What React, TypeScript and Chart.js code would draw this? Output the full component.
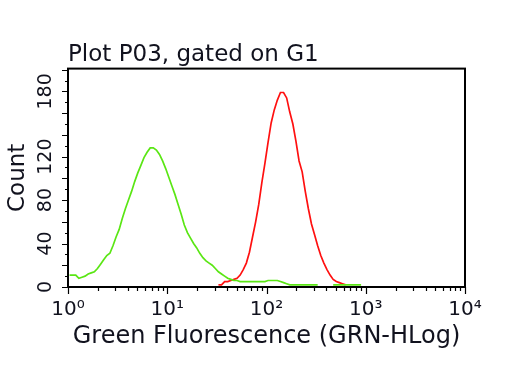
import { useEffect, useRef } from 'react';
import { Chart, registerables } from 'chart.js';

Chart.register(...registerables);

// ---- data ----
const CHANNELS_PER_DECADE = 32;

const greenStartChannel = 0;
const greenCounts: (number | null)[] = [
  11, 11, 11, 8, 9, 10, 12, 13, 14, 17,
  21, 25, 29, 31, 38, 46, 53, 63, 72, 80,
  88, 97, 105, 112, 119, 124, 128, 128, 126, 122,
  116, 109, 101, 93, 85, 76, 67, 57, 50, 45,
  40, 36, 31, 27, 24, 22, 20, 17, 14, 12,
  10, 8, 7, 6, 6, 5, 5, 5, 5, 5,
  5, 5, 5, 5, 6, 6, 6, 6, 5, 4,
  3, 2, 2, 2, 2, 2, 2, 2, 2, 2,
  2, null, null, null, null, 2, 2, 2, 2, 2,
  2, 2, 2, 2, 2,
];

const redStartChannel = 48;
const redCounts: (number | null)[] = [
  2, 2, 5, 5, 6, 7, 8, 11, 16, 22,
  32, 46, 60, 76, 96, 114, 133, 151, 163, 172,
  179, 179, 174, 161, 150, 134, 116, 106, 88, 72,
  58, 48, 38, 29, 22, 16, 11, 7, 5, 4,
  3, 2,
];

const xDecades = [1, 10, 100, 1000, 10000];
const xDecadeLabels = ['10\u2070', '10\u00B9', '10\u00B2', '10\u00B3', '10\u2074'];
const xMinorMultipliers = [2, 3, 4, 5, 6, 7, 8, 9];

const yLabelValues = [0, 40, 80, 120, 180];
const Y_MIN = 0;
const Y_MAX = 201;
const Y_STEP = 10;

const chartTitle = 'Plot P03, gated on G1';
const xTitle = 'Green Fluorescence (GRN-HLog)';
const yTitle = 'Count';

const GREEN = '#5ae614';
const RED = '#ff1010';
const TEXT = '#11121e';
const FONT = 'DejaVu Sans';

function toPoints(counts: (number | null)[], start: number) {
  return counts.map((c, i) => ({
    x: Math.pow(10, (start + i + 0.5) / CHANNELS_PER_DECADE),
    y: c,
  }));
}

const frameAndTicks = {
  id: 'frameAndTicks',
  afterDatasetsDraw(chart: any) {
    const { ctx, chartArea: a, scales } = chart;
    const xs = scales.x;
    const ys = scales.y;
    ctx.save();
    ctx.strokeStyle = '#000';
    ctx.lineWidth = 1.2;
    ctx.beginPath();
    xs.ticks.forEach((t: any) => {
      const px = Math.round(xs.getPixelForValue(t.value)) + 0.5;
      const len = xDecades.includes(t.value) ? 7 : 4;
      ctx.moveTo(px, a.bottom);
      ctx.lineTo(px, a.bottom + len);
    });
    ys.ticks.forEach((t: any) => {
      const py = Math.round(ys.getPixelForValue(t.value)) + 0.5;
      const len = t.value % 20 === 0 ? 6 : 3;
      ctx.moveTo(a.left, py);
      ctx.lineTo(a.left - len, py);
    });
    ctx.stroke();
    ctx.lineWidth = 2;
    ctx.strokeRect(a.left, a.top, a.right - a.left, a.bottom - a.top);
    ctx.restore();
  },
};

export default function App() {
  const ref = useRef<HTMLCanvasElement | null>(null);

  useEffect(() => {
    if (!ref.current) return;
    Chart.defaults.font.family = FONT;
    const chart = new Chart(ref.current, {
      type: 'line',
      data: {
        datasets: [
          {
            label: 'green',
            data: toPoints(greenCounts, greenStartChannel),
            borderColor: GREEN,
            borderWidth: 1.7,
            pointRadius: 0,
            tension: 0,
            spanGaps: false,
            fill: false,
          },
          {
            label: 'red',
            data: toPoints(redCounts, redStartChannel),
            borderColor: RED,
            borderWidth: 1.7,
            pointRadius: 0,
            tension: 0,
            spanGaps: false,
            fill: false,
          },
        ],
      },
      options: {
        responsive: false,
        animation: false,
        events: [],
        layout: { padding: { top: 0, right: 47, bottom: 0, left: 0 } },
        plugins: {
          legend: { display: false },
          tooltip: { enabled: false },
          title: {
            display: true,
            text: chartTitle,
            align: 'start',
            fullSize: false,
            color: TEXT,
            font: { family: FONT, size: 23, weight: 'normal' },
            padding: { top: 41, bottom: 0 },
          },
        },
        scales: {
          x: {
            type: 'logarithmic',
            min: xDecades[0],
            max: xDecades[xDecades.length - 1],
            afterBuildTicks(scale: any) {
              const ticks: any[] = [];
              for (let d = 0; d < xDecades.length - 1; d++) {
                ticks.push({ value: xDecades[d], major: true });
                xMinorMultipliers.forEach((m) => ticks.push({ value: xDecades[d] * m, major: false }));
              }
              ticks.push({ value: xDecades[xDecades.length - 1], major: true });
              scale.ticks = ticks;
            },
            afterFit(scale: any) {
              scale.height = 97;
            },
            grid: { display: false, drawTicks: false },
            border: { display: false },
            ticks: {
              autoSkip: false,
              minRotation: 0,
              maxRotation: 0,
              padding: 11,
              color: TEXT,
              font: { family: FONT, size: 20 },
              callback(value: any) {
                const idx = xDecades.indexOf(Number(value));
                return idx >= 0 ? xDecadeLabels[idx] : '';
              },
            },
            title: {
              display: true,
              text: xTitle,
              color: TEXT,
              font: { family: FONT, size: 24, weight: 'normal' },
              padding: { top: 0, bottom: 33 },
            },
          },
          y: {
            type: 'linear',
            min: Y_MIN,
            max: Y_MAX,
            afterFit(scale: any) {
              scale.width = 68;
            },
            grid: { display: false, drawTicks: false },
            border: { display: false },
            ticks: {
              stepSize: Y_STEP,
              includeBounds: false,
              autoSkip: false,
              minRotation: 90,
              maxRotation: 90,
              crossAlign: 'center',
              padding: 4,
              color: TEXT,
              font: { family: FONT, size: 19 },
              callback(value: any) {
                return yLabelValues.includes(Number(value)) ? String(value) : '';
              },
            },
            title: {
              display: true,
              text: yTitle,
              color: TEXT,
              font: { family: FONT, size: 23, weight: 'normal' },
              padding: { top: 4, bottom: 0 },
            },
          },
        },
      },
      plugins: [frameAndTicks],
    } as any);
    return () => chart.destroy();
  }, []);

  return (
    <div style={{ position: 'absolute', left: 0, top: 0, width: 512, height: 384 }}>
      <canvas ref={ref} width={512} height={384} />
    </div>
  );
}
